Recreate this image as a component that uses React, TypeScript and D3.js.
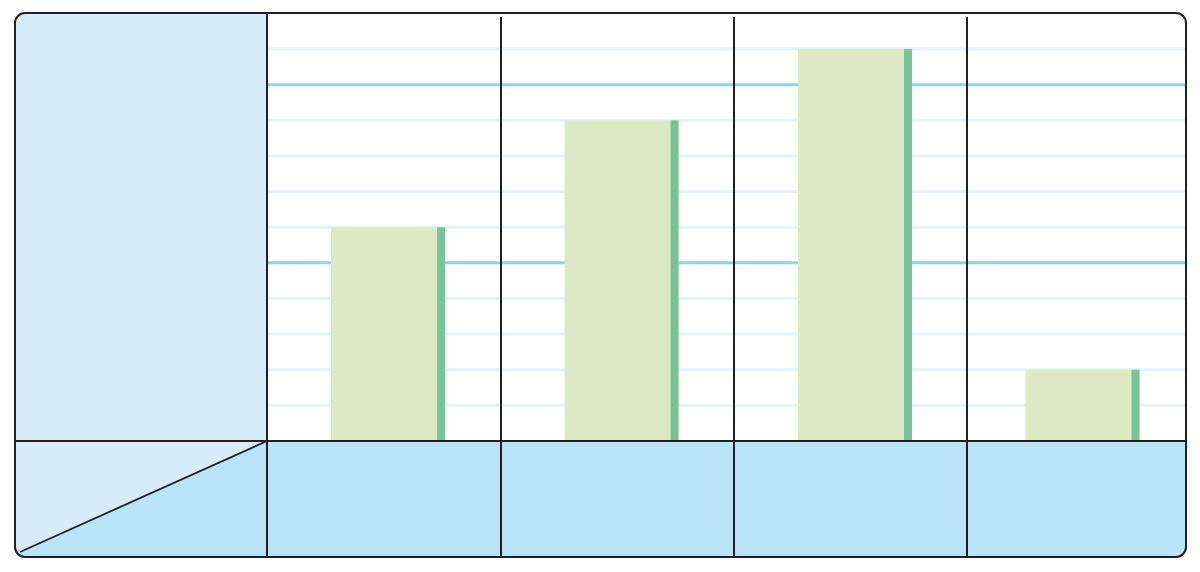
import React from "react";
import * as d3 from "d3";

const categories = ["A", "B", "C", "D"];
const values = [6, 9, 11, 2];
const gridTicks = d3.range(1, 12);
const strongTicks = [5, 10];

export default function App() {
  const L = 15, R = 1186, T = 13, B = 557, plotL = 267, base = 441;
  const y = d3.scaleLinear().domain([0, 11]).range([base, 49]);
  const x = d3.scaleBand<string>().domain(categories).range([plotL, plotL + 4 * 233.5]);
  const clipId = "outerclip";
  return (
    <svg width={1200} height={572} style={{ position: "absolute", left: 0, top: 0 }}>
      <defs>
        <clipPath id={clipId}>
          <rect x={L} y={T} width={R - L} height={B - T} rx={10} />
        </clipPath>
      </defs>
      <g clipPath={`url(#${clipId})`}>
        <rect x={L} y={T} width={R - L} height={B - T} fill="#fff" />
        <rect x={L} y={T} width={plotL - L} height={base - T} fill="#d6edf9" />
        <rect x={plotL} y={base} width={R - plotL} height={B - base} fill="#b9e4f7" />
        <polygon points={`${L},${base} ${plotL},${base} ${20},${552} ${L},${B}`} fill="#d6edf9" />
        <polygon points={`${plotL},${base} ${plotL},${B} ${L},${B} ${20},${552}`} fill="#b9e4f7" />
        {gridTicks.map((t) => (
          <line key={t} x1={plotL} x2={R} y1={y(t)} y2={y(t)}
            stroke={strongTicks.includes(t) ? "#8dd3ef" : "#e3f4fb"} strokeWidth={3} />
        ))}
        {categories.map((c, i) => {
          const x0 = (x(c) as number) + 64 - (i === 3 ? 6 : 0);
          const w = 114;
          return (
            <g key={c}>
              <rect x={x0} y={y(values[i])} width={w} height={base - y(values[i])} fill="#dce9c5" />
              <rect x={x0 + w - 8} y={y(values[i])} width={8} height={base - y(values[i])} fill="#79c496" />
            </g>
          );
        })}
        <line x1={20} y1={552} x2={plotL} y2={base} stroke="#231f20" strokeWidth={1.8} />
      </g>
      <line x1={L} x2={R} y1={base} y2={base} stroke="#231f20" strokeWidth={2} />
      <line x1={plotL} x2={plotL} y1={T} y2={B} stroke="#231f20" strokeWidth={2} />
      {[501, 734, 967].map((xx) => (
        <line key={xx} x1={xx} x2={xx} y1={17} y2={B} stroke="#231f20" strokeWidth={2} />
      ))}
      <rect x={L} y={T} width={R - L} height={B - T} rx={10} fill="none" stroke="#231f20" strokeWidth={2} />
    </svg>
  );
}
